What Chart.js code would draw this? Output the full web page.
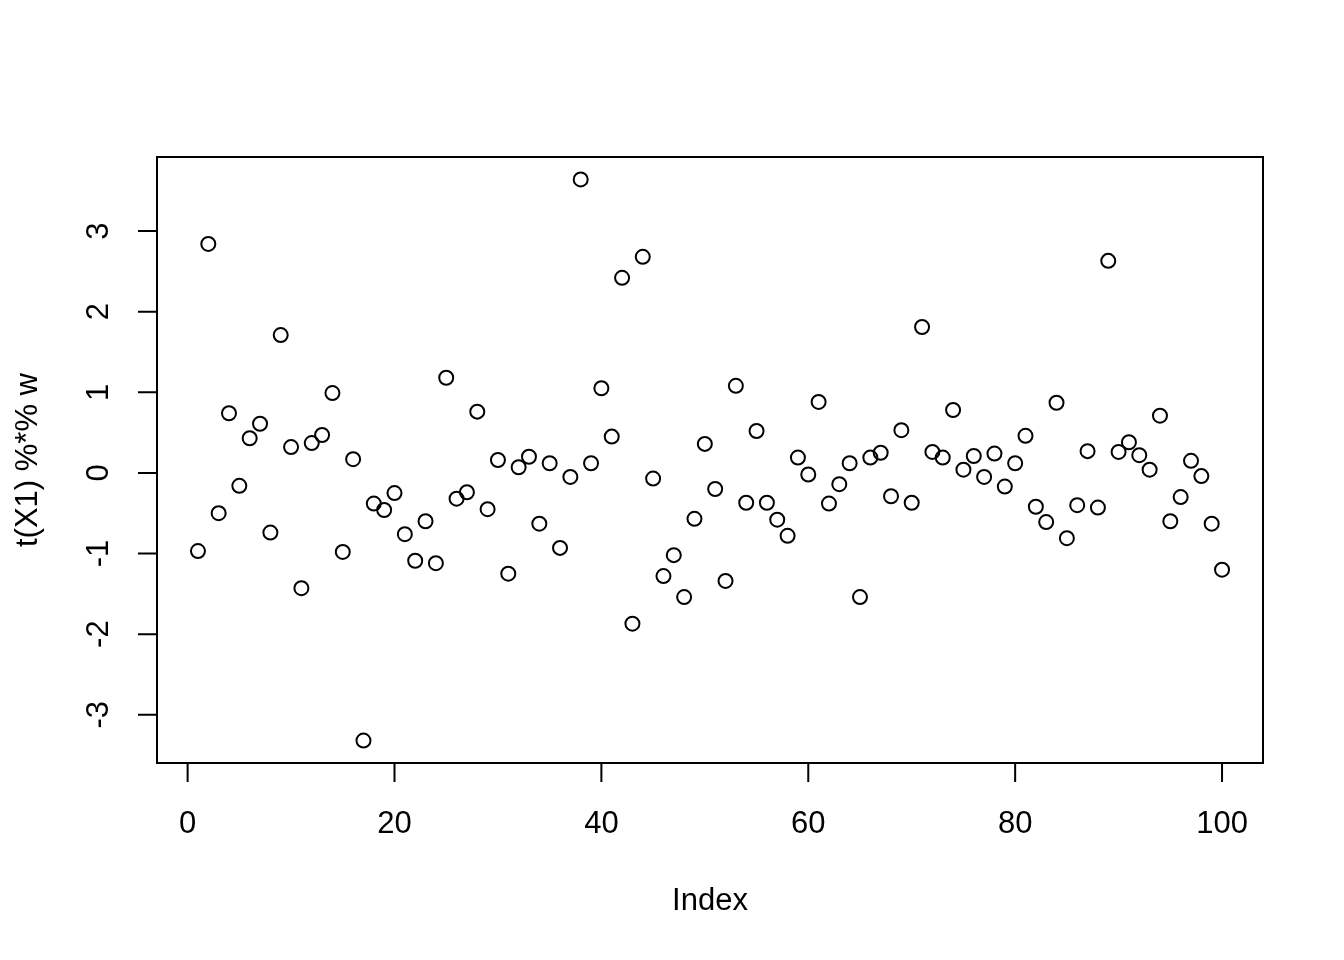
<!DOCTYPE html>
<html>
<head>
<meta charset="utf-8">
<script src="https://cdn.jsdelivr.net/npm/chart.js@4"></script>
<style>
  html, body { margin: 0; padding: 0; background: #fff; }
  canvas { display: block; }
</style>
</head>
<body>
<canvas id="myChart" width="1344" height="960"></canvas>
<script>
// values (index 1..100)
const values = [
  -0.97, 2.84, -0.50, 0.74, -0.16, 0.43, 0.61, -0.74, 1.71, 0.32,
  -1.43, 0.37, 0.47, 0.99, -0.98, 0.17, -3.32, -0.38, -0.46, -0.25,
  -0.76, -1.09, -0.60, -1.12, 1.18, -0.32, -0.24, 0.76, -0.45, 0.16,
  -1.25, 0.07, 0.20, -0.63, 0.12, -0.93, -0.05, 3.64, 0.12, 1.05,
  0.45, 2.42, -1.87, 2.68, -0.07, -1.28, -1.02, -1.54, -0.57, 0.36,
  -0.20, -1.34, 1.08, -0.37, 0.52, -0.37, -0.58, -0.78, 0.19, -0.02,
  0.88, -0.38, -0.14, 0.12, -1.54, 0.19, 0.25, -0.29, 0.53, -0.37,
  1.81, 0.26, 0.19, 0.78, 0.04, 0.21, -0.05, 0.24, -0.17, 0.12,
  0.46, -0.42, -0.61, 0.87, -0.81, -0.40, 0.27, -0.43, 2.63, 0.26,
  0.38, 0.22, 0.04, 0.71, -0.60, -0.30, 0.15, -0.04, -0.63, -1.20
];
const xTicks = [0, 20, 40, 60, 80, 100];
const yTicks = [-3, -2, -1, 0, 1, 2, 3];
const xTitle = 'Index';
const yTitle = 't(X1) %*% w';

const fontFamily = '"Liberation Sans", Arial, Helvetica, sans-serif';

// R style box, ticks and labels
const rAxes = {
  id: 'rAxes',
  afterDraw(chart) {
    const ctx = chart.ctx;
    const area = chart.chartArea;
    const xs = chart.scales.x;
    const ys = chart.scales.y;
    const tick = 19;

    ctx.save();
    ctx.strokeStyle = '#000';
    ctx.lineWidth = 2;
    ctx.strokeRect(area.left, area.top, area.right - area.left, area.bottom - area.top);

    ctx.fillStyle = '#000';
    ctx.font = '31px ' + fontFamily;

    // x axis
    ctx.beginPath();
    ctx.moveTo(xs.getPixelForValue(xTicks[0]), area.bottom);
    ctx.lineTo(xs.getPixelForValue(xTicks[xTicks.length - 1]), area.bottom);
    xTicks.forEach((t) => {
      const px = xs.getPixelForValue(t);
      ctx.moveTo(px, area.bottom);
      ctx.lineTo(px, area.bottom + tick);
    });
    ctx.stroke();
    ctx.textAlign = 'center';
    ctx.textBaseline = 'middle';
    xTicks.forEach((t) => {
      ctx.fillText(String(t), xs.getPixelForValue(t), area.bottom + 61);
    });

    // y axis
    ctx.beginPath();
    ctx.moveTo(area.left, ys.getPixelForValue(yTicks[0]));
    ctx.lineTo(area.left, ys.getPixelForValue(yTicks[yTicks.length - 1]));
    yTicks.forEach((t) => {
      const py = ys.getPixelForValue(t);
      ctx.moveTo(area.left, py);
      ctx.lineTo(area.left - tick, py);
    });
    ctx.stroke();
    yTicks.forEach((t) => {
      ctx.save();
      ctx.translate(area.left - 58, ys.getPixelForValue(t));
      ctx.rotate(-Math.PI / 2);
      ctx.fillText(String(t), 0, 0);
      ctx.restore();
    });

    // titles
    ctx.fillText(xTitle, (area.left + area.right) / 2, area.bottom + 138);
    ctx.save();
    ctx.translate(area.left - 129, (area.top + area.bottom) / 2);
    ctx.rotate(-Math.PI / 2);
    ctx.fillText(yTitle, 0, 0);
    ctx.restore();

    ctx.restore();
  }
};

window.onload = function () {
  const ctx = document.getElementById('myChart').getContext('2d');
  const n = values.length;
  const yMin = Math.min(...values);
  const yMax = Math.max(...values);
  const yPad = (yMax - yMin) * 0.04;
  const xPad = (n - 1) * 0.04;

  new Chart(ctx, {
    type: 'scatter',
    data: {
      datasets: [{
        data: values.map((v, i) => ({ x: i + 1, y: v })),
        pointStyle: 'circle',
        pointRadius: 7,
        pointHoverRadius: 7,
        pointBorderWidth: 2,
        borderColor: '#000',
        backgroundColor: 'rgba(0,0,0,0)'
      }]
    },
    options: {
      responsive: false,
      devicePixelRatio: 1,
      animation: false,
      layout: {
        padding: { left: 157, top: 157, right: 81, bottom: 197 }
      },
      plugins: {
        legend: { display: false },
        tooltip: { enabled: false }
      },
      scales: {
        x: { type: 'linear', display: false, min: 1 - xPad, max: n + xPad },
        y: { type: 'linear', display: false, min: yMin - yPad, max: yMax + yPad }
      }
    },
    plugins: [rAxes]
  });
};
</script>
</body>
</html>
